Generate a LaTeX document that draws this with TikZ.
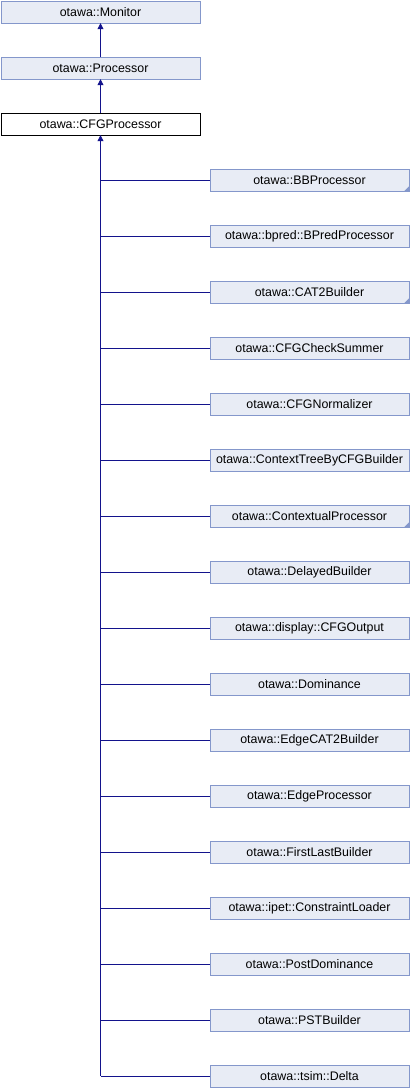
\documentclass[tikz,border=0pt]{standalone}
\usepackage{fontspec}
\setmainfont{Liberation Sans}
\usetikzlibrary{arrows.meta}
\definecolor{boxfill}{HTML}{E8ECF5}
\definecolor{boxline}{HTML}{8497CB}
\definecolor{edgeblue}{HTML}{13138C}
\tikzset{
  classbox/.style={draw=boxline,fill=boxfill,minimum width=199pt,minimum height=22pt,inner sep=0pt,font=\fontsize{12.4}{14}\selectfont},
  curbox/.style={classbox,draw=black,fill=white},
  inherit/.style={draw=edgeblue,thick,-{Triangle[length=6pt,width=6pt]}},
  branch/.style={draw=edgeblue,thick}
}
\begin{document}
\begin{tikzpicture}[x=1pt,y=-1pt]
\useasboundingbox (0,0) rectangle (410,1088);

\node[classbox] (monitor) at (100.5,12) {otawa::Monitor};
\node[classbox] (proc) at (100.5,68) {otawa::Processor};
\node[curbox] (cfg) at (100.5,124) {otawa::CFGProcessor};

\draw[inherit] (proc) -- (monitor);
\draw[inherit] (cfg) -- (proc);

% derived classes
\foreach \i/\cname/\more in {1/BBProcessor/1,2/bpred::BPredProcessor/0,3/CAT2Builder/1,
  4/CFGCheckSummer/0,5/CFGNormalizer/0,6/ContextTreeByCFGBuilder/0,7/ContextualProcessor/1,
  8/DelayedBuilder/0,9/display::CFGOutput/0,10/Dominance/0,11/EdgeCAT2Builder/0,
  12/EdgeProcessor/0,13/FirstLastBuilder/0,14/ipet::ConstraintLoader/0,15/PostDominance/0,
  16/PSTBuilder/0,17/tsim::Delta/0}{
  \node[classbox] (c\i) at (309.5,124+56*\i) {otawa::\cname};
  \draw[branch] (c\i.west) -- (c\i.west -| cfg.south);
  \ifnum\more=1
    \fill[boxline] (c\i.south east) -- ++(0,-5) -- ++(-5,5) -- cycle;
  \fi
}
\draw[inherit] (c17.west -| cfg.south) -- (cfg);

\end{tikzpicture}
\end{document}
